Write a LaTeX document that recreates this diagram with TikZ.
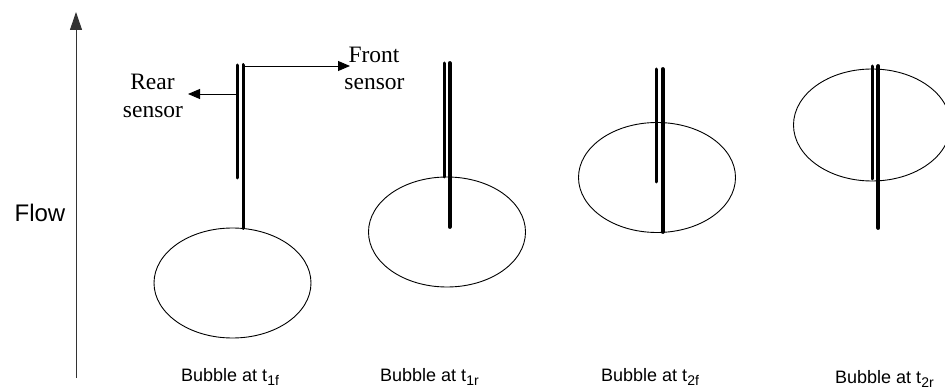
\documentclass[tikz,border=0pt]{standalone}
\usepackage{fontspec}
\setmainfont{Liberation Serif}
\newfontfamily\arialf{Liberation Sans}
\usetikzlibrary{arrows.meta,shapes.geometric}
\begin{document}
\begin{tikzpicture}[x=1pt,y=-1pt,
  bubble/.style={draw, ellipse, line width=0.9pt, inner sep=0pt, minimum width=157pt, minimum height=110pt},
  rearsens/.style={line width=3pt, line cap=round},
  frontsens/.style={line width=3.8pt, line cap=round},
  callout/.style={line width=0.9pt, -{Triangle[length=12pt,width=10pt]}},
  sertext/.style={font=\fontsize{23.5}{27}\selectfont, anchor=base, inner sep=0pt},
  caplabel/.style={font=\arialf\fontsize{18}{18}\selectfont, anchor=base west, inner sep=0pt},
]
\useasboundingbox (0,0) rectangle (945,390);
\newcommand{\mysub}[1]{\raisebox{-4.5pt}{\fontsize{14}{14}\selectfont #1}}

% Flow axis
\coordinate (flowbot) at (76,378);
\coordinate (flowtop) at (76,12);
\draw[line width=1pt, black!80, -{Triangle[length=18pt,width=12pt]}] (flowbot) -- (flowtop);
\node[font=\arialf\fontsize{24}{24}\selectfont, anchor=base, inner sep=0pt] (flow) at (40,222) {Flow};

% bubbles
\node[bubble] (b1) at (232.5,283) {};
\node[bubble] (b2) at (447,232) {};
\node[bubble] (b3) at (657,177.5) {};
\node[bubble, minimum height=112pt] (b4) at (872,125) {};

% sensors, bubble 1
\coordinate (r1t) at (237.7,65);  \coordinate (r1b) at (237.7,178);
\coordinate (f1t) at (243.4,65);  \coordinate (f1b) at (243.4,228);
\draw[rearsens] (r1t) -- (r1b);
\draw[frontsens] (f1t) -- (f1b);

% sensors, bubble 2
\coordinate (r2t) at (444.3,63);  \coordinate (r2b) at (444.3,177);
\coordinate (f2t) at (449.6,63);  \coordinate (f2b) at (449.6,227);
\draw[rearsens] (r2t) -- (r2b);
\draw[frontsens] (f2t) -- (f2b);

% sensors, bubble 3
\coordinate (r3t) at (656.7,69);  \coordinate (r3b) at (656.7,182);
\coordinate (f3t) at (662.8,69);  \coordinate (f3b) at (662.8,232);
\draw[rearsens] (r3t) -- (r3b);
\draw[frontsens] (f3t) -- (f3b);

% sensors, bubble 4
\coordinate (r4t) at (872.3,66);  \coordinate (r4b) at (872.3,179);
\coordinate (f4t) at (878.3,66);  \coordinate (f4b) at (878.3,228);
\draw[rearsens] (r4t) -- (r4b);
\draw[frontsens] (f4t) -- (f4b);

% callouts
\coordinate (fa0) at (245,66);
\coordinate (fa1) at (350,66);
\draw[callout] (fa0) -- (fa1);
\coordinate (ra0) at (236,94);
\coordinate (ra1) at (188,94);
\draw[callout] (ra0) -- (ra1);

\node[sertext] (front1) at (374,63) {Front};
\node[sertext] (front2) at (374.5,90) {sensor};
\node[sertext] (rear1) at (152.5,90) {Rear};
\node[sertext] (rear2) at (153,118) {sensor};

% captions
\node[caplabel] (c1) at (181,381) {Bubble at t\mysub{1f}};
\node[caplabel] (c2) at (380,381) {Bubble at t\mysub{1r}};
\node[caplabel] (c3) at (601,381) {Bubble at t\mysub{2f}};
\node[caplabel] (c4) at (835,383) {Bubble at t\mysub{2r}};
\end{tikzpicture}
\end{document}
